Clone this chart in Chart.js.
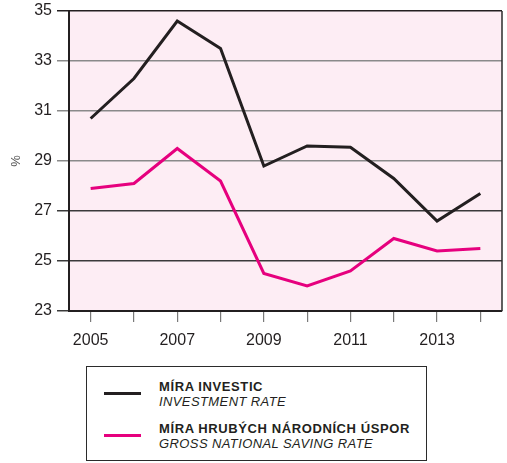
<!DOCTYPE html>
<html>
<head>
<meta charset="utf-8">
<script src="https://cdn.jsdelivr.net/npm/chart.js@4/dist/chart.umd.min.js"></script>
<style>
  html, body { margin: 0; padding: 0; background: #fff; }
  #wrap { position: relative; width: 507px; height: 463px; }
  #c { position: absolute; left: 0; top: 0; }
  #legend {
    position: absolute; left: 86px; top: 366px; width: 339px; height: 93px;
    border: 1.5px solid #2b2b2b; box-sizing: content-box;
    font-family: "Liberation Sans", Arial, sans-serif; color: #231f20;
  }
  .item { position: absolute; left: 0; width: 100%; }
  .swatch { position: absolute; left: 17px; width: 37px; height: 3px; }
  .txt { position: absolute; left: 72px; font-size: 13px; line-height: 15px; white-space: nowrap; }
  .txt b { font-weight: bold; display: block; letter-spacing: 0.6px; }
  .txt i { font-style: italic; display: block; letter-spacing: 0.4px; }
</style>
</head>
<body>
<div id="wrap">
  <canvas id="c" width="507" height="360"></canvas>
  <div id="legend"></div>
</div>
<script>
const years = ['2005','2006','2007','2008','2009','2010','2011','2012','2013','2014'];
const investmentRate = [30.7, 32.3, 34.6, 33.5, 28.8, 29.6, 29.55, 28.3, 26.6, 27.7];
const savingRate = [27.9, 28.1, 29.5, 28.2, 24.5, 24.0, 24.6, 25.9, 25.4, 25.5];
const seriesNamesCz = ['MÍRA INVESTIC', 'MÍRA HRUBÝCH NÁRODNÍCH ÚSPOR'];
const seriesNamesEn = ['INVESTMENT RATE', 'GROSS NATIONAL SAVING RATE'];
const seriesColors = ['#231f20', '#e6007e'];
const yMin = 23, yMax = 35, yStep = 2;

const bgPlugin = {
  id: 'bg',
  beforeDraw(chart) {
    const {ctx, chartArea: a} = chart;
    ctx.save();
    ctx.fillStyle = '#fdedf4';
    ctx.fillRect(a.left, a.top, a.right - a.left, a.bottom - a.top);
    ctx.restore();
  },
  afterDraw(chart) {
    const {ctx, chartArea: a} = chart;
    ctx.save();
    ctx.strokeStyle = '#2b2b2b';
    ctx.lineWidth = 1.5;
    ctx.beginPath();
    ctx.moveTo(a.right, a.top);
    ctx.lineTo(a.right, a.bottom);
    ctx.stroke();
    ctx.restore();
  }
};

new Chart(document.getElementById('c'), {
  type: 'line',
  data: {
    labels: years,
    datasets: [
      { label: seriesNamesCz[0], data: investmentRate, borderColor: seriesColors[0], borderWidth: 3, pointRadius: 0, tension: 0 },
      { label: seriesNamesCz[1], data: savingRate, borderColor: seriesColors[1], borderWidth: 3, pointRadius: 0, tension: 0 }
    ]
  },
  options: {
    responsive: false,
    animation: false,
    layout: { padding: { top: 11, right: 5, bottom: 0, left: 0 } },
    plugins: { legend: { display: false }, tooltip: { enabled: false } },
    scales: {
      x: {
        offset: true,
        grid: { offset: false, drawOnChartArea: false, drawTicks: true, tickLength: 11, color: '#7a7a7a', lineWidth: 1.2 },
        border: { color: '#231f20', width: 2 },
        ticks: {
          autoSkip: false, maxRotation: 0, padding: 9, color: '#231f20',
          font: { family: '"Liberation Sans", Arial, sans-serif', size: 16 },
          callback: (v, i) => (i % 2 === 0 ? years[i] : '')
        },
        afterFit: s => { s.height = 49; s.paddingLeft = 0; s.paddingRight = 0; }
      },
      y: {
        min: yMin, max: yMax,
        grid: {
          drawTicks: true, tickLength: 12, lineWidth: 1.5,
          color: c => (c.tick && c.tick.value === yMax) ? '#231f20' : (c.tick && c.tick.value <= 27 ? '#3a3a3a' : '#8a8a8a')
        },
        border: { color: '#231f20', width: 2 },
        ticks: {
          stepSize: yStep, padding: 5, color: '#231f20',
          font: { family: '"Liberation Sans", Arial, sans-serif', size: 16 }
        },
        title: {
          display: true, text: '%', color: '#555',
          font: { family: '"Liberation Sans", Arial, sans-serif', size: 13 },
          padding: { top: 9, bottom: 0 }
        },
        afterFit: s => { s.width = 69; s.paddingTop = 0; s.paddingBottom = 0; }
      }
    }
  },
  plugins: [bgPlugin]
});

const legend = document.getElementById('legend');
const tops = [12, 54];
seriesNamesCz.forEach((name, i) => {
  const item = document.createElement('div');
  item.className = 'item';
  item.style.top = tops[i] + 'px';
  const sw = document.createElement('div');
  sw.className = 'swatch';
  sw.style.background = seriesColors[i];
  sw.style.top = '13px';
  const t = document.createElement('div');
  t.className = 'txt';
  const b = document.createElement('b'); b.textContent = name;
  const it = document.createElement('i'); it.textContent = seriesNamesEn[i];
  t.appendChild(b); t.appendChild(it);
  item.appendChild(sw); item.appendChild(t);
  legend.appendChild(item);
});
</script>
</body>
</html>
